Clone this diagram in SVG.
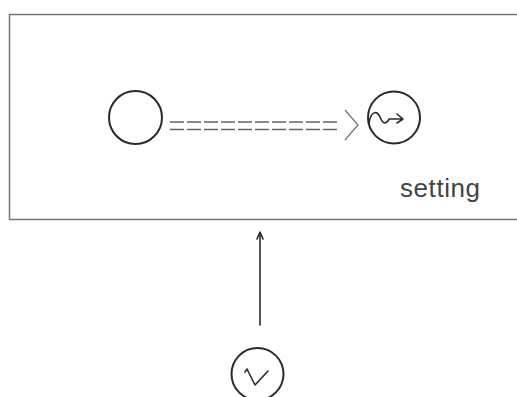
<svg xmlns="http://www.w3.org/2000/svg" width="517" height="397" viewBox="0 0 517 397">
<style>
.node{fill:none;stroke:#2a2a2a;stroke-width:2}
.frame{fill:none;stroke:#777;stroke-width:1.5}
.dbl{stroke:#666;stroke-width:1.5;stroke-dasharray:14 3;fill:none}
.chev{fill:none;stroke:#777;stroke-width:1.3}
.ink{fill:none;stroke:#2a2a2a;stroke-width:1.6;stroke-linecap:round;stroke-linejoin:round}
.lbl{font-family:"Liberation Sans",Arial,sans-serif;font-size:26px;fill:#444}
</style>
<g id="frame">
<path class="frame" d="M517,14.5 H9.5 V219.5 H517"/>
<text class="lbl" x="400" y="197" textLength="80">setting</text>
</g>
<g id="source">
<circle class="node" cx="135.5" cy="117.5" r="26.5"/>
</g>
<g id="target">
<circle class="node" cx="394" cy="117.5" r="26"/>
<path class="ink" d="M369,123 C371,111 377,110 380,117 C383,125 387,124 389,119 L403,119 M397,114 L403,119 L397,123"/>
</g>
<g id="v">
<circle class="node" cx="257.5" cy="374" r="26"/>
<path class="ink" d="M245,372 L247,369 L255,385 L268,371" stroke-width="1.4"/>
</g>
<g id="connectors">
<line class="dbl" x1="170" y1="122" x2="338" y2="122"/>
<line class="dbl" x1="170" y1="129.5" x2="338" y2="129.5"/>
<path class="chev" d="M345,110 L358,125 L345,140"/>
<line class="ink" x1="260" y1="325" x2="260" y2="233"/>
<path class="ink" d="M257,239 L260,232 L263,239" stroke-width="1.3"/>
</g>
</svg>
